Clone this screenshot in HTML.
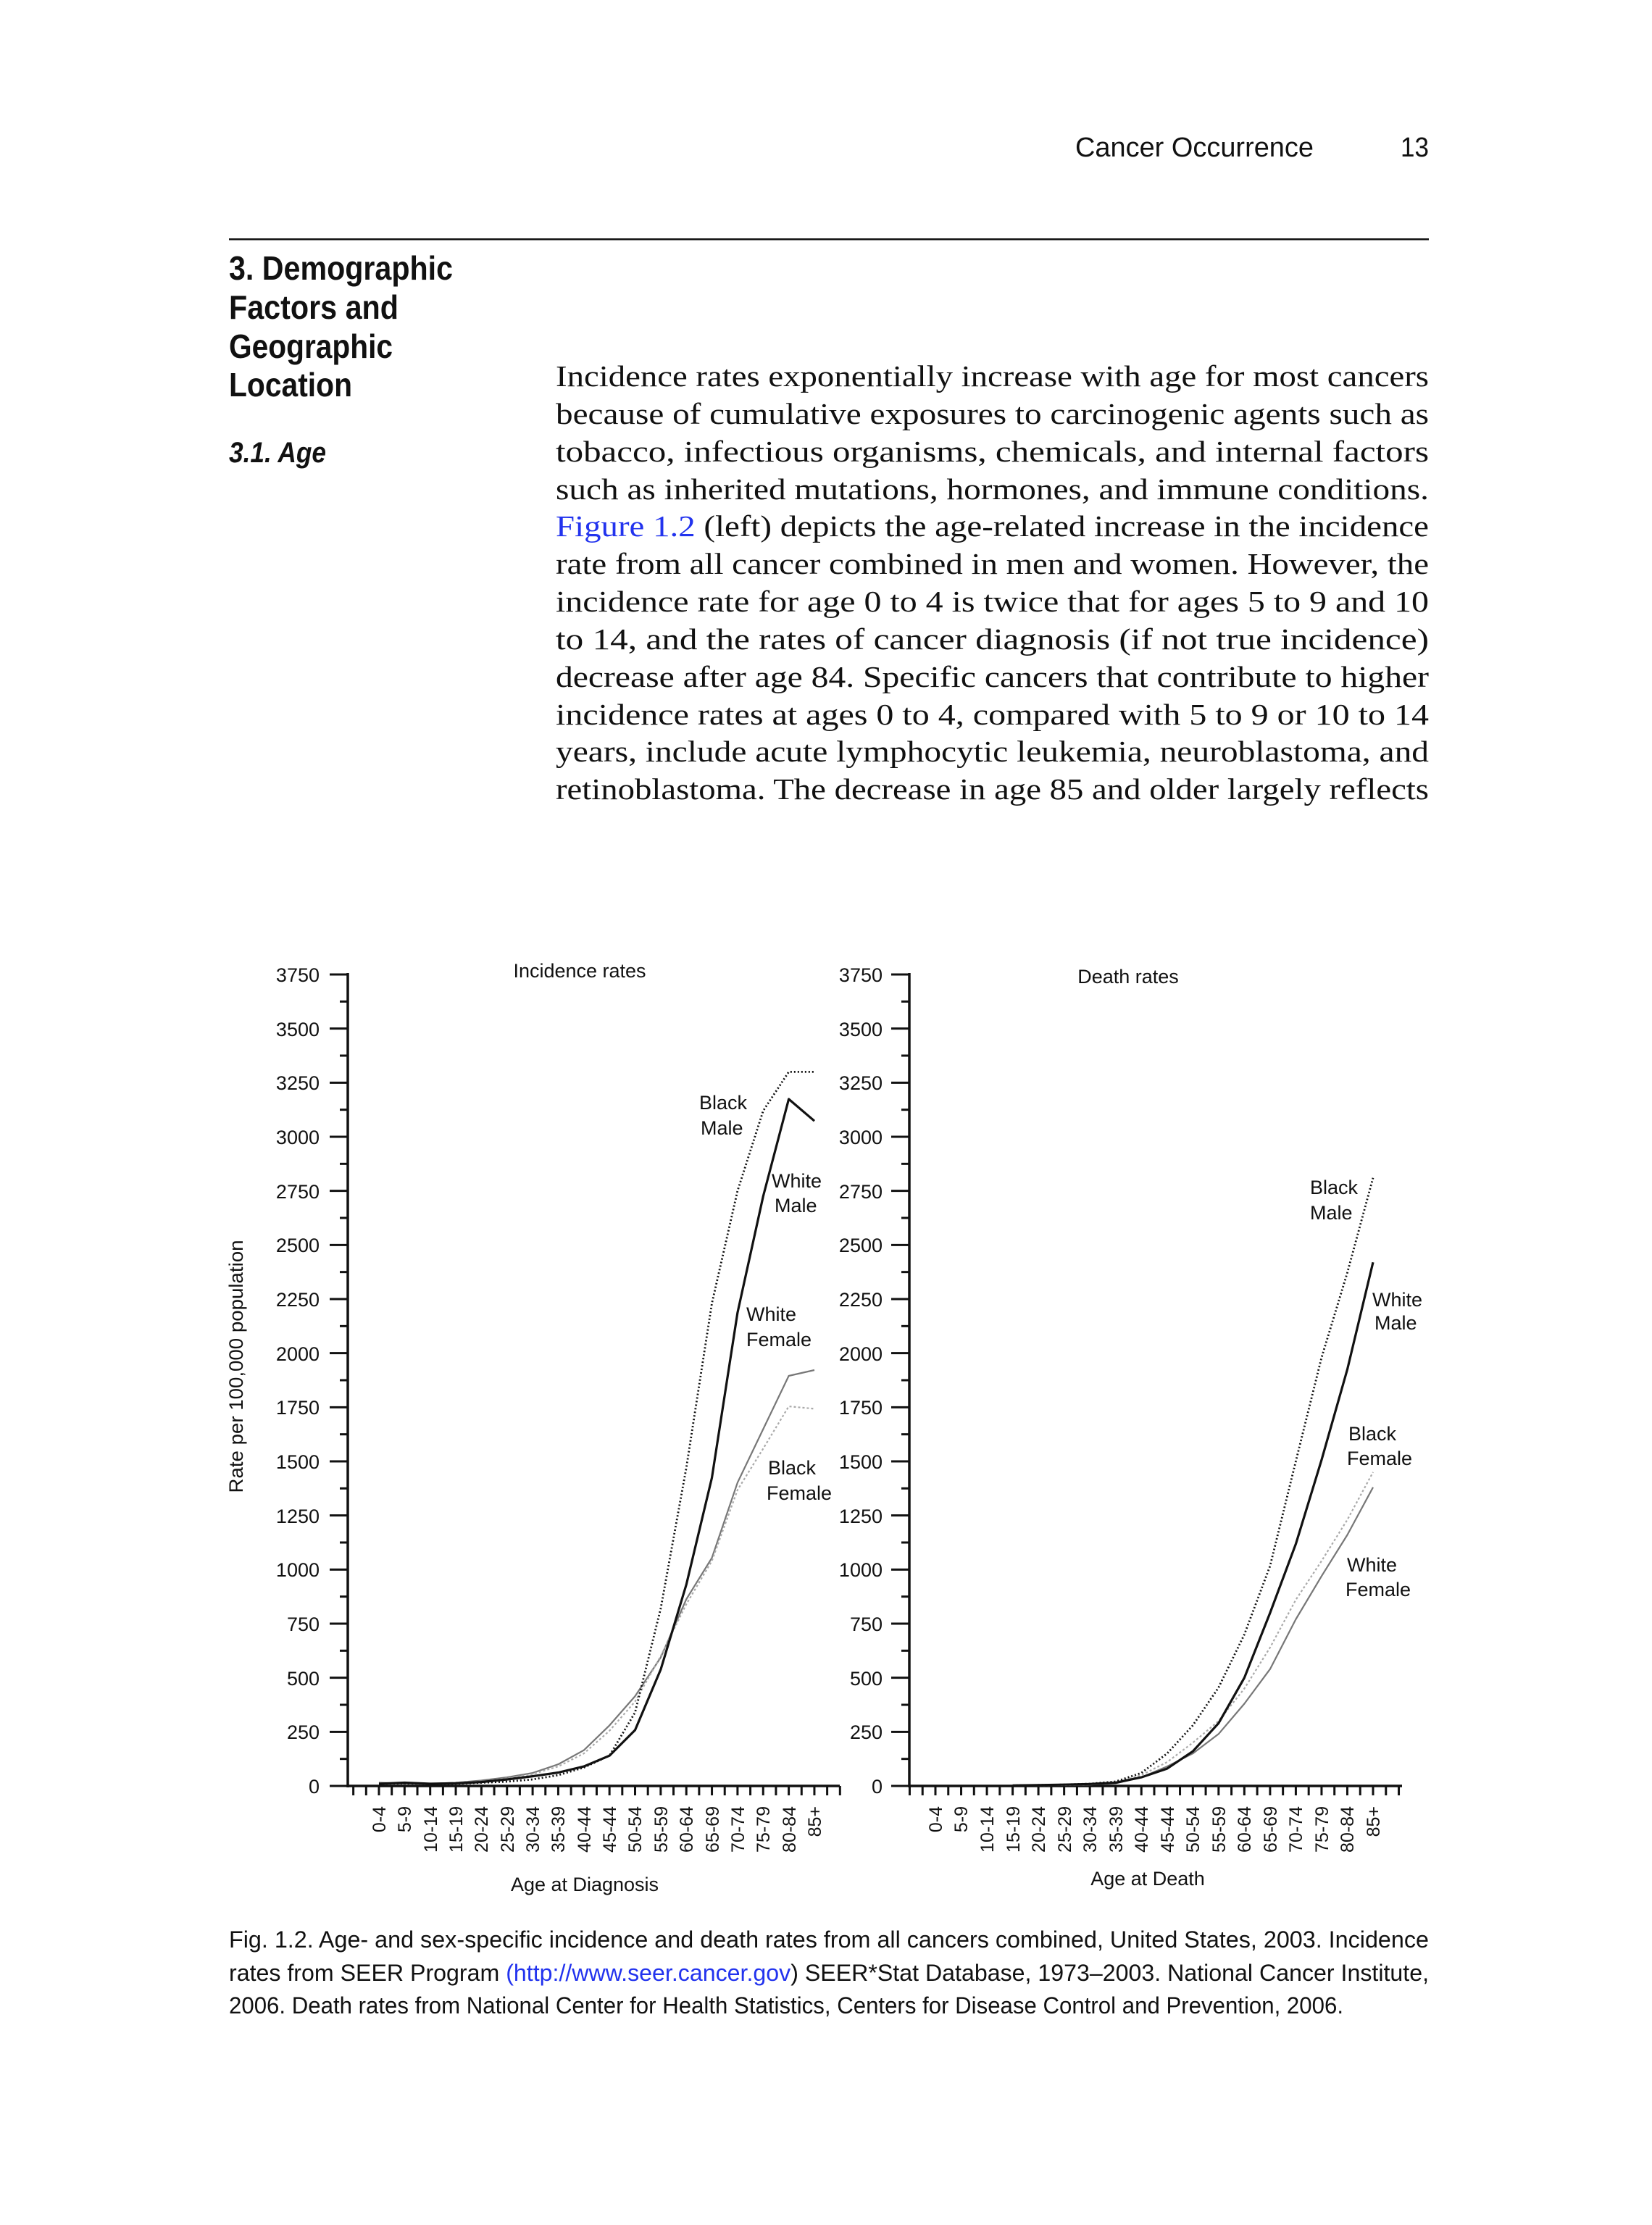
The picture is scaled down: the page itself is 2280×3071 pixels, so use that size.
<!DOCTYPE html>
<html><head><meta charset="utf-8"><style>
html,body{margin:0;padding:0;background:#fff}
svg{display:block}
.ax{font-family:"Liberation Sans",Arial,sans-serif;font-size:27px;fill:#111}
.xl{font-family:"Liberation Sans",Arial,sans-serif;font-size:25px;fill:#111}
.sl{font-family:"Liberation Sans",Arial,sans-serif;font-size:27px;fill:#111}
</style></head><body>
<svg id="s" width="2280" height="3071" viewBox="0 0 2280 3071" xmlns="http://www.w3.org/2000/svg">
<rect width="2280" height="3071" fill="#fff"/>
<g font-family="Liberation Sans, Arial, sans-serif" fill="#111">
<text x="1484" y="216" font-size="38" textLength="329" lengthAdjust="spacingAndGlyphs">Cancer Occurrence</text>
<text x="1933" y="216" font-size="38" textLength="39" lengthAdjust="spacingAndGlyphs">13</text>
</g>
<rect x="316" y="329" width="1656" height="2.5" fill="#111"/>
<g font-family="Liberation Sans, Arial, sans-serif" font-weight="bold" font-size="46" fill="#111">
<text x="316" y="386" textLength="309" lengthAdjust="spacingAndGlyphs">3. Demographic</text>
<text x="316" y="440" textLength="234" lengthAdjust="spacingAndGlyphs">Factors and</text>
<text x="316" y="494" textLength="226" lengthAdjust="spacingAndGlyphs">Geographic</text>
<text x="316" y="547" textLength="170" lengthAdjust="spacingAndGlyphs">Location</text>
<text x="316" y="638" font-style="italic" font-size="40" textLength="134" lengthAdjust="spacingAndGlyphs">3.1. Age</text>
</g>
<g font-family="Liberation Serif, Times New Roman, serif" font-size="41" fill="#111">
<text x="767" y="533" textLength="1205" lengthAdjust="spacingAndGlyphs">Incidence rates exponentially increase with age for most cancers</text>
<text x="767" y="585" textLength="1205" lengthAdjust="spacingAndGlyphs">because of cumulative exposures to carcinogenic agents such as</text>
<text x="767" y="637" textLength="1205" lengthAdjust="spacingAndGlyphs">tobacco, infectious organisms, chemicals, and internal factors</text>
<text x="767" y="689" textLength="1205" lengthAdjust="spacingAndGlyphs">such as inherited mutations, hormones, and immune conditions.</text>
<text x="767" y="740" textLength="1205" lengthAdjust="spacingAndGlyphs"><tspan fill="#2233ee">Figure 1.2</tspan> (left) depicts the age-related increase in the incidence</text>
<text x="767" y="792" textLength="1205" lengthAdjust="spacingAndGlyphs">rate from all cancer combined in men and women. However, the</text>
<text x="767" y="844" textLength="1205" lengthAdjust="spacingAndGlyphs">incidence rate for age 0 to 4 is twice that for ages 5 to 9 and 10</text>
<text x="767" y="896" textLength="1205" lengthAdjust="spacingAndGlyphs">to 14, and the rates of cancer diagnosis (if not true incidence)</text>
<text x="767" y="948" textLength="1205" lengthAdjust="spacingAndGlyphs">decrease after age 84. Specific cancers that contribute to higher</text>
<text x="767" y="1000" textLength="1205" lengthAdjust="spacingAndGlyphs">incidence rates at ages 0 to 4, compared with 5 to 9 or 10 to 14</text>
<text x="767" y="1051" textLength="1205" lengthAdjust="spacingAndGlyphs">years, include acute lymphocytic leukemia, neuroblastoma, and</text>
<text x="767" y="1103" textLength="1205" lengthAdjust="spacingAndGlyphs">retinoblastoma. The decrease in age 85 and older largely reflects</text>
</g>

<g class="ax" text-anchor="end">
<text x="441" y="2475">0</text><text x="441" y="2400">250</text><text x="441" y="2326">500</text><text x="441" y="2251">750</text><text x="441" y="2176">1000</text><text x="441" y="2102">1250</text><text x="441" y="2027">1500</text><text x="441" y="1952">1750</text><text x="441" y="1878">2000</text><text x="441" y="1803">2250</text><text x="441" y="1728">2500</text><text x="441" y="1654">2750</text><text x="441" y="1579">3000</text><text x="441" y="1504">3250</text><text x="441" y="1430">3500</text><text x="441" y="1355">3750</text>
<text x="1218" y="2475">0</text><text x="1218" y="2400">250</text><text x="1218" y="2326">500</text><text x="1218" y="2251">750</text><text x="1218" y="2176">1000</text><text x="1218" y="2102">1250</text><text x="1218" y="2027">1500</text><text x="1218" y="1952">1750</text><text x="1218" y="1878">2000</text><text x="1218" y="1803">2250</text><text x="1218" y="1728">2500</text><text x="1218" y="1654">2750</text><text x="1218" y="1579">3000</text><text x="1218" y="1504">3250</text><text x="1218" y="1430">3500</text><text x="1218" y="1355">3750</text>
</g>
<g class="ax" text-anchor="middle">
<text x="800" y="1349">Incidence rates</text>
<text x="1557" y="1357">Death rates</text>
<text x="807" y="2610">Age at Diagnosis</text>
<text x="1584" y="2602">Age at Death</text>
</g>
<text class="ax" transform="translate(335,1886) rotate(-90)" text-anchor="middle" textLength="349" lengthAdjust="spacingAndGlyphs">Rate per 100,000 population</text>
<g class="xl" text-anchor="end">
<text transform="translate(532,2493) rotate(-90)">0-4</text>
<text transform="translate(567,2493) rotate(-90)">5-9</text>
<text transform="translate(603,2493) rotate(-90)">10-14</text>
<text transform="translate(638,2493) rotate(-90)">15-19</text>
<text transform="translate(673,2493) rotate(-90)">20-24</text>
<text transform="translate(709,2493) rotate(-90)">25-29</text>
<text transform="translate(744,2493) rotate(-90)">30-34</text>
<text transform="translate(779,2493) rotate(-90)">35-39</text>
<text transform="translate(815,2493) rotate(-90)">40-44</text>
<text transform="translate(850,2493) rotate(-90)">45-44</text>
<text transform="translate(885,2493) rotate(-90)">50-54</text>
<text transform="translate(921,2493) rotate(-90)">55-59</text>
<text transform="translate(956,2493) rotate(-90)">60-64</text>
<text transform="translate(992,2493) rotate(-90)">65-69</text>
<text transform="translate(1027,2493) rotate(-90)">70-74</text>
<text transform="translate(1062,2493) rotate(-90)">75-79</text>
<text transform="translate(1098,2493) rotate(-90)">80-84</text>
<text transform="translate(1133,2493) rotate(-90)">85+</text>
<text transform="translate(1300,2493) rotate(-90)">0-4</text>
<text transform="translate(1335,2493) rotate(-90)">5-9</text>
<text transform="translate(1371,2493) rotate(-90)">10-14</text>
<text transform="translate(1407,2493) rotate(-90)">15-19</text>
<text transform="translate(1442,2493) rotate(-90)">20-24</text>
<text transform="translate(1478,2493) rotate(-90)">25-29</text>
<text transform="translate(1513,2493) rotate(-90)">30-34</text>
<text transform="translate(1549,2493) rotate(-90)">35-39</text>
<text transform="translate(1584,2493) rotate(-90)">40-44</text>
<text transform="translate(1620,2493) rotate(-90)">45-44</text>
<text transform="translate(1655,2493) rotate(-90)">50-54</text>
<text transform="translate(1691,2493) rotate(-90)">55-59</text>
<text transform="translate(1726,2493) rotate(-90)">60-64</text>
<text transform="translate(1762,2493) rotate(-90)">65-69</text>
<text transform="translate(1797,2493) rotate(-90)">70-74</text>
<text transform="translate(1833,2493) rotate(-90)">75-79</text>
<text transform="translate(1868,2493) rotate(-90)">80-84</text>
<text transform="translate(1904,2493) rotate(-90)">85+</text>
</g>
<g class="sl">
<text x="965" y="1531">Black</text><text x="967" y="1566">Male</text>
<text x="1065" y="1639">White</text><text x="1069" y="1673">Male</text>
<text x="1030" y="1823">White</text><text x="1030" y="1858">Female</text>
<text x="1060" y="2035">Black</text><text x="1058" y="2070">Female</text>
<text x="1808" y="1648">Black</text><text x="1808" y="1683">Male</text>
<text x="1894" y="1803">White</text><text x="1897" y="1835">Male</text>
<text x="1861" y="1988">Black</text><text x="1859" y="2022">Female</text>
<text x="1859" y="2169">White</text><text x="1857" y="2203">Female</text>
</g>
<g font-family="Liberation Sans Narrow, Liberation Sans, Arial, sans-serif" font-size="32" fill="#111">
<text x="316" y="2688" textLength="1656" lengthAdjust="spacingAndGlyphs">Fig. 1.2. Age- and sex-specific incidence and death rates from all cancers combined, United States, 2003. Incidence</text>
<text x="316" y="2734" textLength="1656" lengthAdjust="spacingAndGlyphs">rates from SEER Program <tspan fill="#2233ee">(http://www.seer.cancer.gov</tspan>) SEER*Stat Database, 1973–2003. National Cancer Institute,</text>
<text x="316" y="2779" textLength="1538" lengthAdjust="spacingAndGlyphs">2006. Death rates from National Center for Health Statistics, Centers for Disease Control and Prevention, 2006.</text>
</g>
<g id="g"></g>
</svg>
<script>
(function(){
var NS="http://www.w3.org/2000/svg",g=document.getElementById("g");
function el(t,a){var e=document.createElementNS(NS,t);for(var k in a)e.setAttribute(k,a[k]);g.appendChild(e);return e;}
function Y(v){return 2465-v*1120/3750;}
function axes(ax,x0,step,xend){
 el("line",{x1:ax,y1:1343,x2:ax,y2:2467,stroke:"#111","stroke-width":3.5});
 el("line",{x1:ax,y1:2465,x2:xend,y2:2465,stroke:"#111","stroke-width":3.5});
 for(var k=0;k<=30;k++){var y=2465-k*1120/30;el("line",{x1:ax-(k%2?11:25),y1:y,x2:ax,y2:y,stroke:"#111","stroke-width":3});}
 var h=step/2,s=x0-2*h;while(s>ax)s-=h;s+=h;
 for(var x=s;x<=xend+1;x+=h){el("line",{x1:x,y1:2465,x2:x,y2:2478,stroke:"#111","stroke-width":3});}
}
axes(480,523,35.35,1159);
axes(1255,1291,35.53,1935);
function series(x0,step,d,st){var p=[];for(var i=0;i<d.length;i++){if(d[i]==null)continue;p.push((x0+i*step).toFixed(1)+","+Y(d[i]).toFixed(1));}
 var a={points:p.join(" "),fill:"none",stroke:st[0],"stroke-width":st[1],"stroke-linejoin":"round"};if(st[2])a["stroke-dasharray"]=st[2];el("polyline",a);}
var L=[523,35.35],R=[1291,35.53];
var WF=["#777",2.2],BF=["#aaa",2.2,"3,3"],BM=["#111",2.8,"2,3"],WM=["#111",3.2];
series(L[0],L[1],[15,10,10,15,25,40,60,100,165,280,415,594,863,1054,1402,1649,1895,1922],WF);
series(L[0],L[1],[12,10,10,15,20,35,55,90,150,255,390,600,840,1040,1368,1559,1754,1743],BF);
series(L[0],L[1],[10,12,10,10,15,20,30,50,85,140,340,820,1470,2230,2750,3120,3300,3300],BM);
series(L[0],L[1],[10,15,10,12,18,30,45,62,90,140,258,538,930,1424,2187,2725,3174,3073],WM);
series(R[0],R[1],[null,null,null,2,3,4,6,12,40,90,150,240,380,540,770,970,1160,1380],WF);
series(R[0],R[1],[null,null,null,2,3,4,7,15,50,110,200,300,450,640,860,1040,1230,1450],BF);
series(R[0],R[1],[null,null,null,2,4,6,10,20,60,150,280,455,700,1017,1500,1980,2372,2810],BM);
series(R[0],R[1],[null,null,null,2,4,6,9,15,40,80,160,290,500,800,1118,1507,1925,2420],WM);
})();
</script>
</body></html>
